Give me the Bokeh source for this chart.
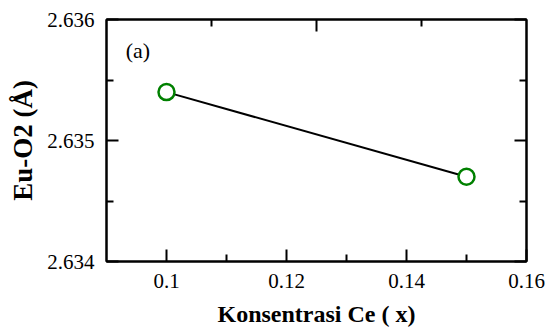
from bokeh.plotting import figure
from bokeh.models import Range1d, LinearAxis, FixedTicker, Label, ColumnDataSource
from bokeh.embed import file_html
from bokeh.resources import INLINE

# Data
ce_conc = [0.10, 0.15]
eu_o2 = [2.63540, 2.63470]

x_major = [0.10, 0.12, 0.14, 0.16]
x_minor = [0.11, 0.13, 0.15]
y_major = [2.634, 2.635, 2.636]
y_minor = [2.6345, 2.6355]
top_major = [0.125]
top_minor = [0.1075, 0.1425]

FONT = "Liberation Serif"

p = figure(width=548, height=334, output_backend="svg", toolbar_location=None,
           x_range=Range1d(0.09, 0.16), y_range=Range1d(2.634, 2.636),
           x_axis_type=None, y_axis_type=None,
           min_border_left=106, min_border_right=22, min_border_top=19, min_border_bottom=73)
p.xgrid.visible = False
p.ygrid.visible = False
p.outline_line_color = "black"
p.outline_line_width = 2
p.background_fill_color = "white"
p.border_fill_color = "white"


def style(ax, major, minor, labels=True):
    ax.ticker = FixedTicker(ticks=major, minor_ticks=minor)
    ax.axis_line_width = 2
    ax.axis_line_color = "black"
    ax.major_tick_in = 12
    ax.major_tick_out = 0
    ax.minor_tick_in = 7
    ax.minor_tick_out = 0
    ax.major_tick_line_width = 2
    ax.minor_tick_line_width = 2
    ax.major_tick_line_color = "black"
    ax.minor_tick_line_color = "black"
    if labels:
        ax.major_label_text_font = FONT
        ax.major_label_text_font_size = "21px"
        ax.major_label_text_color = "black"
        ax.major_label_standoff = 12
        ax.axis_label_text_font = FONT
        ax.axis_label_text_font_size = "24px"
        ax.axis_label_text_font_style = "bold"
        ax.axis_label_text_color = "black"
    else:
        ax.major_label_text_font_size = "0px"
        ax.major_label_standoff = 0
        ax.major_label_text_alpha = 0


xb = LinearAxis(axis_label="Konsentrasi Ce ( x)")
style(xb, x_major, x_minor)
xb.axis_label_standoff = 10
p.add_layout(xb, "below")

yl = LinearAxis(axis_label="Eu-O2 (Å)")
style(yl, y_major, y_minor)
yl.axis_label_text_font_size = "27px"
yl.axis_label_standoff = 6
p.add_layout(yl, "left")

xt = LinearAxis()
style(xt, top_major, top_minor, labels=False)
p.add_layout(xt, "above")

yr = LinearAxis()
style(yr, y_major, y_minor, labels=False)
yr.major_label_overrides = {v: "" for v in y_major}
p.add_layout(yr, "right")

src = ColumnDataSource(dict(x=ce_conc, y=eu_o2))
p.line("x", "y", source=src, line_color="black", line_width=2)
p.scatter("x", "y", source=src, size=16, marker="circle", fill_color="white",
          line_color="#008000", line_width=2.5)

p.add_layout(Label(x=0.0932, y=2.635744, text="(a)", text_font=FONT,
                   text_font_size="22px", text_baseline="middle", text_color="black"))

open("out.html", "w").write(file_html(p, INLINE))
